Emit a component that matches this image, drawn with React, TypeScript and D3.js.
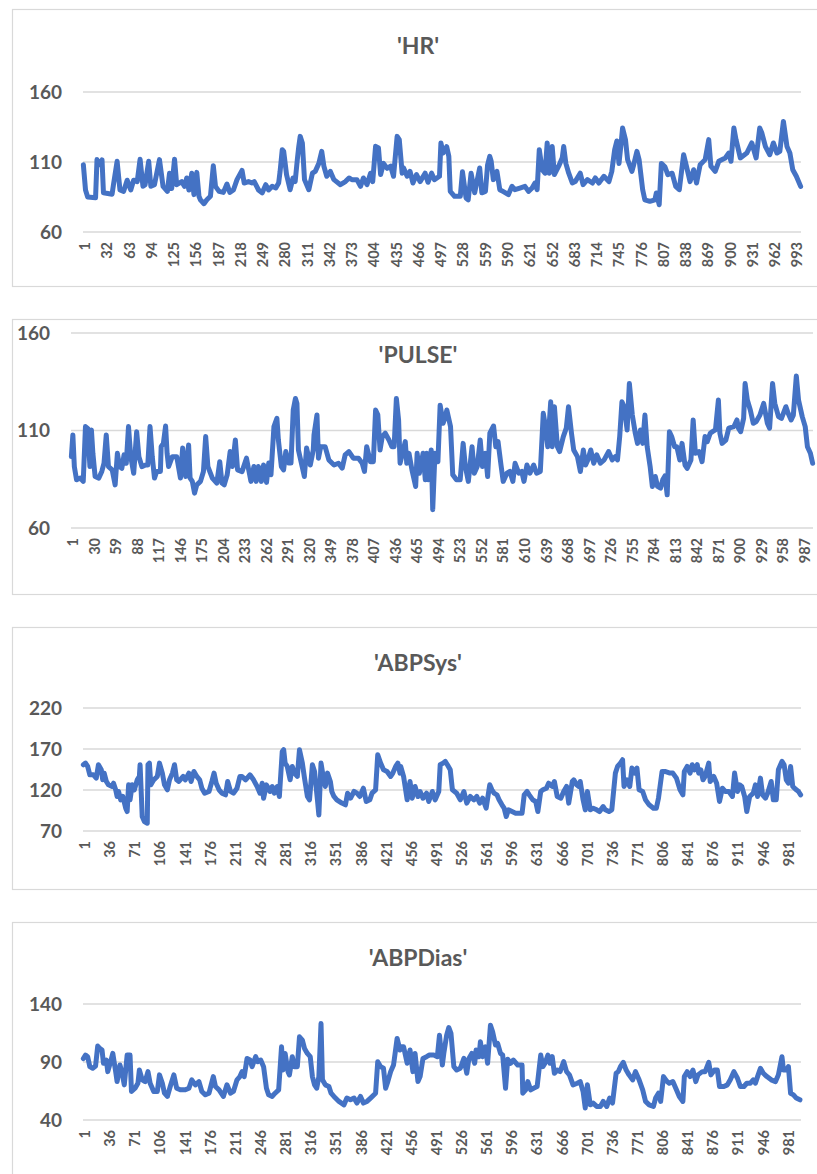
import React from "react";
import * as d3 from "d3";

// Vital-sign traces, one record per second; each entry is [record number, value].
const hrSeries: [number, number][] = [
  [1, 108], [4, 90], [7, 85], [18, 84.5], [20, 111.7], [23, 108], [27, 111.5], [29, 88], [41, 87], [43, 94],
  [48, 110.5], [52, 90], [57, 89], [62, 97], [67, 90], [71, 97], [76, 96], [80, 112], [84, 92.6], [87, 93.8],
  [92, 110.5], [95, 92.6], [100, 93.8], [107, 111.7], [112, 92.6], [118, 89], [121, 102], [124, 91], [128, 112], [131, 93.8],
  [138, 96], [142, 92.6], [145, 98.6], [148, 90], [152, 102], [155, 86.7], [159, 102.6], [162, 85.5], [164, 83], [169, 80.2],
  [173, 83], [178, 85.5], [182, 107.4], [185, 92.6], [190, 89], [196, 88.3], [201, 94.3], [205, 88.3], [210, 90], [215, 97.4],
  [222, 104], [225, 95], [231, 96], [236, 95], [239, 96], [245, 90], [250, 87.9], [255, 93.8], [259, 90], [264, 92.6],
  [269, 91.4], [273, 95], [275, 103.3], [278, 118.8], [280, 117.6], [284, 101], [289, 90.2], [293, 98.6], [296, 96], [299, 111.7],
  [301, 121], [303, 128.3], [306, 123.6], [309, 97.4], [315, 90.2], [320, 102], [324, 103.3], [329, 109], [333, 117.6], [336, 107],
  [340, 99.8], [345, 103.3], [350, 97.4], [359, 93.8], [366, 96], [371, 98.6], [375, 97.4], [382, 97.4], [387, 92.6], [391, 98.6],
  [396, 93.8], [401, 102], [404, 96], [408, 121.2], [412, 120], [415, 101], [419, 109], [424, 105.5], [429, 107], [433, 99.8],
  [438, 128.3], [441, 126], [445, 102], [447, 105.7], [452, 99.8], [456, 103.3], [460, 95], [465, 101], [470, 96], [477, 102],
  [481, 95.5], [486, 102], [490, 97.4], [497, 99.8], [499, 123.6], [502, 116.4], [507, 121], [510, 114], [512, 89], [518, 85.5],
  [526, 85.5], [529, 103], [534, 84.3], [537, 83], [541, 102], [546, 88], [553, 105.7], [556, 88], [561, 89], [564, 108],
  [567, 114], [569, 110.5], [572, 97.4], [577, 103.3], [581, 90.2], [586, 88.8], [593, 86.7], [598, 92.6], [602, 90.2], [609, 91.4],
  [616, 92.6], [621, 89], [626, 91.4], [630, 95], [633, 90.2], [636, 118.8], [640, 104.5], [644, 102], [647, 123.6], [650, 102],
  [654, 121], [657, 101], [663, 107], [668, 113], [670, 121], [673, 109], [677, 102], [682, 95], [686, 96], [693, 102],
  [697, 93.8], [703, 97.4], [710, 95], [714, 98.6], [719, 95], [726, 99.8], [733, 96], [737, 103.3], [741, 118.8], [744, 125],
  [747, 109], [750, 123.6], [752, 134.3], [756, 126], [759, 111.7], [765, 103.3], [767, 107], [772, 117.6], [775, 111.7], [780, 90.2],
  [783, 83], [790, 81.9], [797, 83], [799, 87.9], [803, 79.5], [806, 109], [811, 106.6], [815, 101], [821, 102], [826, 92.6],
  [831, 90.2], [837, 115.2], [840, 109], [846, 96], [851, 104.5], [855, 95], [860, 108], [867, 111.7], [872, 126], [875, 107],
  [881, 103.3], [886, 110.5], [895, 112.9], [900, 116.4], [903, 110.5], [907, 134.3], [910, 126], [916, 112.9], [925, 116.4], [932, 123.6],
  [938, 112.9], [943, 134.3], [946, 130.7], [951, 121], [957, 115.2], [962, 123.6], [967, 116.4], [971, 117.6], [976, 139], [981, 121],
  [985, 116.4], [989, 104.5], [994, 99.8], [1000, 92.6],
];

const pulseSeries: [number, number][] = [
  [1, 96.6], [3, 107.7], [5, 91.5], [8, 84.7], [13, 85.6], [17, 83.9], [20, 112], [23, 111.1], [26, 91.5], [28, 110.3],
  [30, 98.3], [33, 86.4], [38, 85.6], [42, 89], [45, 93.2], [48, 107.7], [51, 91.5], [56, 89.8], [60, 82.1], [63, 98.3],
  [66, 91.5], [69, 90.6], [72, 97.5], [75, 93.2], [78, 112], [81, 96.6], [85, 88.1], [89, 109.4], [92, 96.6], [96, 91.5],
  [101, 92.3], [104, 92.3], [107, 112], [110, 96.6], [113, 85.6], [116, 89], [121, 89], [122, 101.7], [125, 103.4], [128, 112.3],
  [130, 98.3], [132, 91.5], [137, 96.6], [143, 96.6], [148, 85.6], [151, 101], [155, 86.4], [159, 102.6], [161, 85.6], [164, 83.9],
  [167, 77.9], [170, 82.1], [175, 83.9], [179, 89], [182, 106.9], [185, 91.5], [191, 85.6], [197, 83], [201, 94], [204, 83],
  [207, 82.1], [211, 87.3], [215, 99.2], [218, 91.5], [222, 105.1], [225, 89.8], [231, 88.9], [237, 95.8], [240, 89.8], [243, 83.9],
  [247, 91.5], [250, 83.9], [253, 91.5], [257, 83.9], [260, 92.3], [264, 83.4], [267, 93.3], [270, 87.3], [274, 112], [278, 116.2],
  [280, 105.1], [284, 91.5], [287, 89.8], [290, 99.2], [294, 93.3], [297, 93.3], [300, 120.5], [303, 126.4], [305, 123.9], [307, 100],
  [312, 91.5], [315, 86.4], [318, 101], [323, 92.3], [327, 100], [328, 107.7], [332, 118], [334, 95.8], [337, 101.7], [343, 101.7],
  [348, 94.9], [355, 92.3], [361, 93.2], [366, 90.7], [370, 97.5], [375, 99.2], [381, 95.8], [388, 95.8], [393, 93.2], [396, 89],
  [399, 101.7], [404, 94], [408, 94], [411, 120.5], [414, 118], [417, 100], [420, 106.9], [424, 108.6], [429, 105.1], [433, 101.7],
  [436, 101.7], [439, 126.4], [442, 115.4], [444, 93.2], [451, 104.3], [453, 93.2], [456, 98.3], [460, 89.8], [465, 81.3], [467, 98.3],
  [470, 88.1], [475, 98.3], [478, 84.7], [480, 98.3], [482, 84.7], [486, 100], [488, 69.4], [491, 98.3], [495, 94], [498, 123],
  [502, 113.7], [505, 117.1], [507, 120.5], [512, 112], [515, 87.3], [520, 84.7], [525, 84.7], [529, 103.4], [532, 91.5], [536, 83.9],
  [541, 101.7], [544, 88.1], [548, 91.5], [552, 105.1], [555, 91.5], [559, 98.3], [562, 86.4], [565, 108.6], [570, 112.3], [573, 101.7],
  [576, 104.3], [580, 92.3], [583, 83.9], [588, 88.1], [592, 89], [596, 83.9], [599, 93.2], [604, 88.1], [608, 89], [611, 83.9],
  [615, 92.3], [619, 88.1], [624, 92.3], [628, 88.1], [633, 89], [637, 118.8], [640, 112], [643, 101.7], [647, 124.7], [649, 101.7],
  [652, 122.2], [656, 101.7], [659, 99.2], [664, 106.9], [668, 111.2], [671, 122.2], [675, 108.6], [678, 100], [683, 96.6], [687, 89],
  [691, 100], [694, 92.3], [697, 94.9], [701, 100], [705, 93.2], [709, 97.5], [714, 93.2], [719, 94.9], [725, 99.2], [730, 94.9],
  [734, 96.6], [737, 94.9], [740, 106.9], [743, 124.7], [746, 122.2], [750, 110.3], [753, 134.1], [757, 117.9], [761, 108.6], [764, 103.4],
  [768, 110.3], [771, 103.4], [774, 117.9], [777, 101.7], [781, 91.5], [784, 81.3], [788, 86.4], [791, 81.3], [795, 80.4], [798, 84.7],
  [801, 86.7], [804, 77], [807, 109.4], [810, 106.9], [814, 101.7], [817, 101.7], [821, 94.9], [824, 103.4], [828, 92.3], [831, 90.6],
  [836, 94.9], [839, 115.4], [842, 98.3], [847, 99.2], [851, 94], [855, 106.9], [858, 104.3], [862, 108.6], [865, 109.4], [869, 110.3],
  [873, 125.6], [875, 108.6], [878, 103.4], [883, 105.1], [887, 111.2], [894, 112], [898, 115.4], [900, 111.2], [903, 109.4], [907, 116.2],
  [909, 134.1], [912, 125.6], [916, 120.5], [920, 113.7], [924, 114.6], [929, 117.9], [934, 123.9], [939, 113.7], [942, 111.2], [946, 134.1],
  [949, 123.9], [954, 117.1], [958, 116.2], [964, 122.2], [967, 118.8], [971, 115.4], [974, 117.9], [978, 137.9], [981, 125.6], [986, 117.1],
  [990, 112], [993, 101.7], [997, 98.3], [1000, 93.2],
];

const abpSysSeries: [number, number][] = [
  [1, 150.8], [4, 152.8], [7, 148.7], [10, 138.5], [15, 138.5], [19, 134.5], [22, 150.8], [26, 144.6], [28, 132.4], [30, 140.6],
  [33, 130.4], [36, 126.3], [41, 124.3], [43, 128.3], [46, 120.2], [48, 112.1], [50, 118.2], [53, 108], [56, 112.1], [60, 97.8],
  [62, 93.7], [64, 126.3], [66, 108], [69, 126.3], [72, 120.2], [76, 132.4], [79, 136.5], [80, 150.8], [83, 87.6], [86, 81.5],
  [90, 79.5], [91, 150.8], [93, 152.8], [95, 126.3], [99, 132.4], [104, 136.5], [107, 152.8], [111, 140.6], [114, 126.3], [118, 120.2],
  [121, 132.4], [125, 140.6], [128, 150.8], [131, 132.4], [134, 130.4], [140, 136.5], [143, 132.4], [148, 140.6], [151, 130.4], [155, 142.6],
  [159, 136.5], [163, 132.4], [166, 122.2], [170, 116.1], [176, 118.2], [180, 130.4], [183, 140.6], [186, 128.3], [190, 120.2], [194, 116.1],
  [199, 114.1], [202, 130.4], [206, 118.2], [210, 116.1], [215, 122.2], [219, 136.5], [222, 136.5], [227, 132.4], [233, 138.5], [238, 132.4],
  [243, 124.3], [247, 116.1], [250, 128.3], [252, 110], [256, 126.3], [261, 118.2], [264, 124.3], [267, 116.1], [271, 124.3], [274, 112.1],
  [278, 167], [280, 169.2], [282, 152.8], [285, 148.7], [287, 140.6], [289, 132.4], [292, 148.7], [295, 140.6], [299, 136.5], [302, 169.2],
  [306, 152.8], [309, 134.5], [313, 112.1], [316, 108], [320, 150.8], [323, 142.6], [327, 108], [329, 89.6], [332, 152.8], [335, 136.5],
  [338, 124.3], [341, 140.6], [345, 130.4], [347, 118.2], [350, 112.1], [354, 108], [361, 104], [366, 101.9], [369, 116.1], [373, 110],
  [378, 118.2], [382, 116.1], [386, 112.1], [391, 122.2], [395, 106], [400, 108], [403, 116.1], [408, 120.2], [411, 163], [415, 152.8],
  [419, 144.6], [424, 142.6], [429, 136.5], [432, 140.6], [436, 148.7], [439, 152.8], [442, 140.6], [443, 148.7], [447, 136.5], [452, 108],
  [456, 130.4], [459, 110], [463, 124.3], [467, 112.1], [470, 118.2], [474, 110], [479, 116.1], [482, 106], [487, 118.2], [491, 108],
  [496, 118.2], [498, 150.8], [502, 152.8], [505, 154.9], [508, 150.8], [512, 144.6], [515, 120.2], [521, 116.1], [526, 108], [531, 118.2],
  [535, 104], [540, 112.1], [545, 108], [549, 112.1], [553, 104], [557, 110], [562, 97.8], [567, 126.3], [570, 120.2], [573, 116.1],
  [577, 114.1], [580, 108], [584, 101.9], [587, 97.8], [590, 87.6], [593, 95.8], [598, 93.7], [603, 91.7], [607, 91.7], [612, 91.7],
  [615, 114.1], [619, 118.2], [622, 114.1], [627, 108], [631, 106], [634, 93.7], [638, 118.2], [641, 120.2], [646, 122.2], [649, 128.3],
  [654, 124.3], [657, 130.4], [661, 112.1], [666, 110], [670, 118.2], [674, 124.3], [677, 104], [682, 130.4], [684, 132.4], [688, 126.3],
  [691, 124.3], [693, 130.4], [697, 108], [700, 95.8], [703, 118.2], [707, 95.8], [711, 97.8], [716, 95.8], [720, 93.7], [725, 99.8],
  [728, 95.8], [733, 93.7], [737, 95.8], [742, 140.6], [745, 148.7], [749, 152.8], [752, 156.9], [754, 124.3], [758, 132.4], [762, 124.3],
  [765, 146.7], [769, 140.6], [772, 146.7], [775, 120.2], [780, 118.2], [784, 108], [789, 101.9], [795, 97.8], [799, 97.8], [802, 110],
  [807, 142.6], [811, 142.6], [818, 140.6], [822, 140.6], [827, 134.5], [832, 120.2], [836, 114.1], [838, 142.6], [842, 148.7], [846, 140.6],
  [849, 150.8], [852, 144.6], [856, 150.8], [858, 140.6], [861, 144.6], [864, 132.4], [867, 136.5], [872, 152.8], [874, 130.4], [879, 136.5],
  [883, 128.3], [887, 106], [891, 122.2], [895, 118.2], [900, 118.2], [905, 112.1], [908, 140.6], [912, 118.2], [915, 126.3], [918, 124.3],
  [922, 112.1], [925, 93.7], [929, 112.1], [934, 116.1], [937, 126.3], [940, 112.1], [944, 134.5], [947, 114.1], [951, 110], [954, 116.1],
  [959, 130.4], [962, 108], [966, 108], [969, 144.6], [974, 154.9], [977, 150.8], [980, 132.4], [983, 128.3], [986, 148.7], [989, 124.3],
  [994, 120.2], [997, 118.2], [1000, 114.1],
];

const abpDiasSeries: [number, number][] = [
  [1, 93], [4, 96], [7, 94.6], [10, 86], [14, 84.6], [18, 86.6], [21, 103.7], [24, 101.7], [27, 100.3], [29, 88.9],
  [33, 91.7], [35, 81.7], [39, 90.3], [42, 97.4], [46, 81.7], [48, 73.1], [52, 87.4], [55, 80.3], [58, 70.3], [62, 96],
  [66, 96], [68, 64.6], [73, 67.4], [77, 71.7], [79, 83.1], [83, 74.6], [87, 73.1], [91, 81.7], [94, 71.7], [99, 64.6],
  [104, 64.6], [107, 78.9], [111, 71.7], [114, 63.1], [118, 60.3], [122, 68.9], [127, 78.9], [131, 67.4], [136, 66], [143, 66],
  [148, 67.4], [152, 74.6], [157, 70.3], [162, 73.1], [166, 64.6], [171, 61.7], [176, 63.1], [182, 77.4], [185, 68.9], [190, 66],
  [196, 60.3], [201, 70.3], [206, 63.1], [210, 64.6], [215, 74.6], [219, 77.4], [222, 81.7], [225, 77.4], [229, 93.1], [233, 91.7],
  [236, 86], [241, 94.6], [244, 90.3], [248, 91.7], [252, 86], [256, 67.4], [259, 61.7], [264, 60.3], [268, 63.1], [273, 66],
  [277, 103.1], [279, 83.1], [282, 97.4], [286, 81.7], [288, 78.9], [292, 94.6], [295, 86], [299, 86], [302, 111.7], [306, 108.9],
  [309, 101.7], [313, 97.4], [317, 94.6], [320, 77.4], [323, 70.3], [326, 67.4], [329, 77.4], [332, 123.1], [334, 74.6], [338, 70.3],
  [343, 68.9], [346, 63.1], [350, 60.3], [357, 56], [364, 53.1], [368, 58.9], [373, 57.4], [378, 58.9], [382, 54.6], [387, 60.3],
  [391, 54.6], [396, 56], [401, 58.9], [408, 63.1], [411, 90.3], [415, 86], [419, 84.6], [422, 67.4], [425, 73.1], [429, 81.7],
  [433, 87.4], [438, 110.3], [442, 100.3], [443, 103.1], [447, 103.1], [452, 88.9], [456, 100.3], [460, 81.7], [463, 97.4], [467, 73.1],
  [470, 77.4], [474, 93.1], [479, 94.6], [483, 96], [489, 96], [494, 94.6], [497, 113.1], [501, 87.4], [503, 97.4], [507, 113.1],
  [510, 119.7], [513, 114.6], [517, 86], [521, 83.1], [526, 84.6], [531, 93.1], [535, 80.3], [538, 93.1], [542, 97.4], [546, 88.9],
  [548, 100.3], [552, 94.6], [554, 107.4], [557, 94.6], [561, 103.1], [564, 88.9], [568, 121.7], [571, 116], [575, 104.6], [578, 106],
  [582, 97.4], [585, 96], [589, 67.4], [592, 92.3], [596, 88.9], [600, 91.7], [606, 87.4], [612, 87.4], [613, 63.1], [617, 66],
  [620, 73.1], [624, 66], [628, 67.4], [633, 68.9], [638, 96], [641, 86], [644, 88.9], [648, 96], [651, 88.9], [654, 94.6],
  [657, 80.3], [661, 83.1], [665, 81.7], [670, 90.3], [674, 81.7], [678, 78.9], [683, 70.3], [689, 71.7], [693, 73.1], [697, 64.6],
  [700, 50.3], [703, 70.3], [707, 53.1], [711, 54.6], [716, 51.7], [721, 51.7], [725, 56], [730, 51.7], [734, 58.9], [738, 54.6],
  [743, 80.3], [746, 81.7], [749, 86], [753, 89.7], [757, 83.1], [761, 78.9], [766, 74.6], [770, 81.7], [775, 74.6], [780, 66],
  [784, 56], [789, 53.1], [795, 51.7], [798, 58.9], [802, 63.1], [805, 56], [809, 77.4], [814, 73.1], [817, 71.7], [822, 73.1],
  [827, 66], [831, 60.3], [836, 56], [838, 77.4], [842, 81.7], [846, 77.4], [850, 83.1], [854, 73.1], [857, 78.9], [863, 81.7],
  [867, 81.7], [872, 89.7], [875, 78.9], [880, 83.1], [884, 83.1], [887, 68.9], [893, 68.9], [898, 70.3], [902, 74.6], [907, 81.7],
  [912, 76], [916, 68.9], [921, 68.9], [925, 71.7], [930, 71.7], [934, 74.6], [937, 71.7], [940, 77.4], [944, 84.6], [948, 80.3],
  [953, 77.4], [959, 74.6], [965, 73.1], [969, 78.9], [974, 94.6], [976, 83.1], [980, 83.1], [983, 86], [986, 63.1], [990, 61.7],
  [994, 58.9], [999, 57.4],
];

const recordCount = 1000;

const hrTicks = [60, 110, 160];
const pulseTicks = [60, 110, 160];
const abpSysTicks = [70, 120, 170, 220];
const abpDiasTicks = [40, 90, 140];

const titles = ["'HR'", "'PULSE'", "'ABPSys'", "'ABPDias'"];
const labelSteps = [31, 29, 35, 35];

type Panel = {
  title: string;
  data: [number, number][];
  ticks: number[];
  step: number;
  box: { y: number; h: number };
  plot: { left: number; right: number; top: number; bottom: number };
  titleY: number;
  tickRight: number;
};

const panels: Panel[] = [
  {
    title: titles[0], data: hrSeries, ticks: hrTicks, step: labelSteps[0],
    box: { y: 9, h: 277 }, plot: { left: 83, right: 801, top: 92, bottom: 232 },
    titleY: 54, tickRight: 62,
  },
  {
    title: titles[1], data: pulseSeries, ticks: pulseTicks, step: labelSteps[1],
    box: { y: 319, h: 275 }, plot: { left: 71, right: 813, top: 333, bottom: 528 },
    titleY: 363, tickRight: 50,
  },
  {
    title: titles[2], data: abpSysSeries, ticks: abpSysTicks, step: labelSteps[2],
    box: { y: 627, h: 262 }, plot: { left: 83, right: 801, top: 708, bottom: 831 },
    titleY: 671, tickRight: 62,
  },
  {
    title: titles[3], data: abpDiasSeries, ticks: abpDiasTicks, step: labelSteps[3],
    box: { y: 922, h: 280 }, plot: { left: 83, right: 801, top: 1004, bottom: 1120 },
    titleY: 966, tickRight: 62,
  },
];

const FONT = "Lato, 'Open Sans', 'Noto Sans', sans-serif";
const TEXT = "#595959";
const GRID = "#D9D9D9";
const LINE = "#4472C4";

function ChartPanel({ p }: { p: Panel }) {
  const x = d3.scaleLinear().domain([0.5, recordCount + 0.5]).range([p.plot.left, p.plot.right]);
  const y = d3
    .scaleLinear()
    .domain([d3.min(p.ticks)!, d3.max(p.ticks)!])
    .range([p.plot.bottom, p.plot.top]);
  const path = d3
    .line<[number, number]>()
    .x((d) => x(d[0]))
    .y((d) => y(d[1]))(p.data);
  const labels = d3.range(1, recordCount + 1, p.step);

  return (
    <g>
      <rect x={12.5} y={p.box.y + 0.5} width={813} height={p.box.h} fill="#fff" stroke={GRID} strokeWidth={1.2} />
      <text x={418} y={p.titleY} textAnchor="middle" fontFamily={FONT} fontWeight={700} fontSize={23} fill={TEXT}>
        {p.title}
      </text>
      {p.ticks.map((t) => (
        <g key={t}>
          <line x1={p.plot.left} x2={p.plot.right} y1={y(t)} y2={y(t)} stroke={GRID} strokeWidth={1.3} />
          <text
            x={p.tickRight}
            y={y(t)}
            dy="0.36em"
            textAnchor="end"
            fontFamily={FONT}
            fontWeight={700}
            fontSize={19}
            fill={TEXT}
          >
            {t}
          </text>
        </g>
      ))}
      {labels.map((v) => (
        <text
          key={v}
          transform={`translate(${x(v) + 1.5},${p.plot.bottom + 10}) rotate(-90)`}
          dy="0.36em"
          textAnchor="end"
          fontFamily={FONT}
          fontWeight={700}
          fontSize={14.5}
          fill={TEXT}
        >
          {v}
        </text>
      ))}
      <path d={path ?? ""} fill="none" stroke={LINE} strokeWidth={5} strokeLinejoin="round" strokeLinecap="round" />
    </g>
  );
}

export default function App() {
  return (
    <svg
      width={817}
      height={1174}
      viewBox="0 0 817 1174"
      style={{ position: "absolute", left: 0, top: 0, display: "block", background: "#fff" }}
    >
      <rect width={817} height={1174} fill="#fff" />
      {panels.map((p) => (
        <ChartPanel key={p.title} p={p} />
      ))}
    </svg>
  );
}
